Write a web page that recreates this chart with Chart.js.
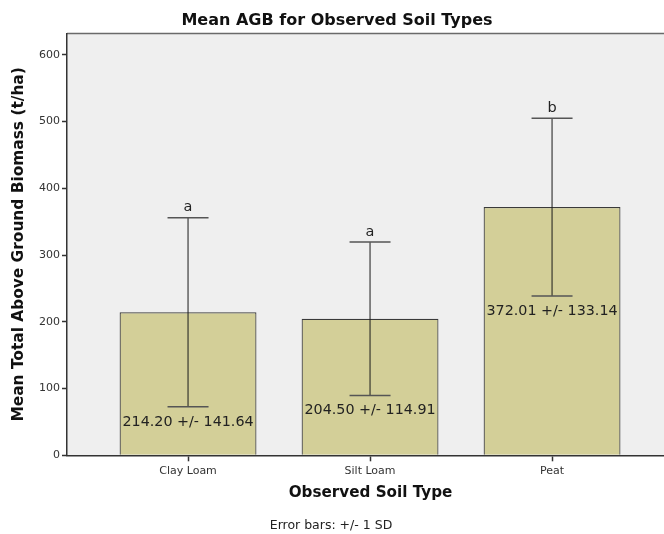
<!DOCTYPE html>
<html>
<head>
<meta charset="utf-8">
<script src="https://cdn.jsdelivr.net/npm/chart.js@4"></script>
<style>
  html, body { margin: 0; padding: 0; background: #fff; overflow: hidden; }
  #wrap { width: 664px; height: 534px; overflow: hidden; }
  #c { display: block; }
</style>
</head>
<body>
<div id="wrap"><canvas id="c" width="674" height="534"></canvas></div>
<script>
// Mean above-ground biomass per soil type, with one standard deviation
const categories = ['Clay Loam', 'Silt Loam', 'Peat'];
const meanAGB = [214.20, 204.50, 372.01];
const sdAGB = [141.64, 114.91, 133.14];
const groupLetters = ['a', 'a', 'b'];
const yTicks = [0, 100, 200, 300, 400, 500, 600];
const footNote = 'Error bars: +/- 1 SD';

const FONT = 'DejaVu Sans';
const fmt = v => v.toFixed(2);

// Grey plot panel with a top frame line
const panelPlugin = {
  id: 'panel',
  beforeDraw(chart) {
    const { ctx, chartArea: a } = chart;
    ctx.save();
    ctx.fillStyle = '#efefef';
    ctx.fillRect(a.left, a.top, a.right - a.left, a.bottom - a.top);
    ctx.strokeStyle = '#6a6a6a';
    ctx.lineWidth = 1.5;
    ctx.beginPath();
    ctx.moveTo(a.left, a.top);
    ctx.lineTo(a.right, a.top);
    ctx.stroke();
    ctx.restore();
  },
  afterDraw(chart) {
    const { ctx } = chart;
    ctx.save();
    ctx.fillStyle = '#222';
    ctx.font = '12.5px "' + FONT + '"';
    ctx.textAlign = 'center';
    ctx.textBaseline = 'middle';
    ctx.fillText(footNote, 331, 526);
    ctx.restore();
  }
};

// Error bars (+/- 1 SD), group letters and mean +/- SD labels
const errorBarPlugin = {
  id: 'errorBars',
  afterDatasetsDraw(chart) {
    const { ctx, scales: { x, y } } = chart;
    ctx.save();
    meanAGB.forEach((m, i) => {
      const cx = x.getPixelForValue(i);
      const yHi = y.getPixelForValue(m + sdAGB[i]);
      const yLo = y.getPixelForValue(m - sdAGB[i]);
      const half = 20.5;
      ctx.strokeStyle = '#1a1a1a';
      ctx.lineWidth = 1;
      ctx.beginPath();
      ctx.moveTo(cx, yHi);
      ctx.lineTo(cx, yLo);
      ctx.stroke();
      ctx.strokeStyle = '#555';
      ctx.lineWidth = 1.5;
      ctx.beginPath();
      ctx.moveTo(cx - half, yHi);
      ctx.lineTo(cx + half, yHi);
      ctx.moveTo(cx - half, yLo);
      ctx.lineTo(cx + half, yLo);
      ctx.stroke();

      ctx.fillStyle = '#222';
      ctx.textAlign = 'center';
      ctx.font = '14.5px "' + FONT + '"';
      ctx.textBaseline = 'alphabetic';
      ctx.fillText(groupLetters[i], cx, yHi - 6.5);

      ctx.font = '14.3px "' + FONT + '"';
      ctx.textBaseline = 'middle';
      ctx.fillText(fmt(m) + ' +/- ' + fmt(sdAGB[i]), cx, yLo + 15);
    });
    ctx.restore();
  }
};

new Chart(document.getElementById('c'), {
  type: 'bar',
  data: {
    datasets: [{
      data: categories.map((c, i) => ({ x: i, y: meanAGB[i] })),
      backgroundColor: '#d3cf98',
      borderColor: '#3a3a3a',
      borderWidth: { top: 1.2, left: 1.2, right: 1.2, bottom: 0 },
      borderSkipped: 'bottom',
      barPercentage: 0.752,
      categoryPercentage: 1
    }]
  },
  options: {
    responsive: false,
    animation: false,
    devicePixelRatio: 1,
    layout: { padding: { top: 0, left: 0, right: 0, bottom: 16 } },
    scales: {
      x: {
        type: 'linear',
        offset: false,
        min: -0.665,
        max: 2.67,
        afterBuildTicks: s => { s.ticks = categories.map((c, i) => ({ value: i })); },
        afterFit: s => { s.height = 62.7; },
        ticks: {
          callback: v => categories[v],
          font: { family: FONT, size: 11 },
          color: '#333',
          padding: 3,
          maxRotation: 0
        },
        grid: { offset: false, drawOnChartArea: false, drawTicks: true, tickLength: 6, color: '#333', tickWidth: 1.5 },
        border: { color: '#333', width: 1.5 },
        title: {
          display: true,
          text: 'Observed Soil Type',
          font: { family: FONT, size: 15.2, weight: 'bold' },
          color: '#111',
          padding: { top: 0, bottom: 16 }
        }
      },
      y: {
        min: 0,
        max: 632,
        afterBuildTicks: s => { s.ticks = yTicks.map(v => ({ value: v })); },
        afterFit: s => { s.width = 67; },
        ticks: {
          font: { family: FONT, size: 11 },
          color: '#333',
          padding: 2
        },
        grid: { drawOnChartArea: false, drawTicks: true, tickLength: 5, color: '#333', tickWidth: 1.5 },
        border: { color: '#333', width: 1.5 },
        title: {
          display: true,
          text: 'Mean Total Above Ground Biomass (t/ha)',
          font: { family: FONT, size: 15.4, weight: 'bold' },
          color: '#111',
          padding: { top: 10, bottom: 0 }
        }
      }
    },
    plugins: {
      legend: { display: false },
      tooltip: { enabled: false },
      title: {
        display: true,
        text: 'Mean AGB for Observed Soil Types',
        font: { family: FONT, size: 16, weight: 'bold' },
        color: '#111',
        padding: { top: 11.5, bottom: 2.8 }
      }
    }
  },
  plugins: [panelPlugin, errorBarPlugin]
});
</script>
</body>
</html>
